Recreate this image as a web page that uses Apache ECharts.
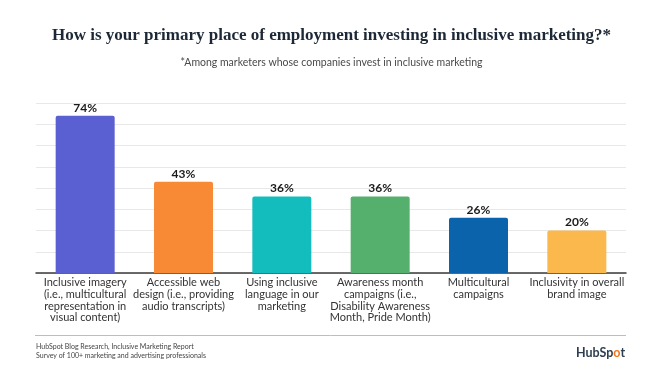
<!DOCTYPE html>
<html>
<head>
<meta charset="utf-8">
<script src="https://cdn.jsdelivr.net/npm/echarts@6/dist/echarts.min.js"></script>
<style>
html,body{margin:0;padding:0;background:#fff;}
#chart{width:663px;height:374px;}
</style>
</head>
<body>
<div id="chart"></div>
<script>
var categories = [
  "Inclusive imagery\n(i.e., multicultural\nrepresentation in\nvisual content)",
  "Accessible web\ndesign (i.e., providing\naudio transcripts)",
  "Using inclusive\nlanguage in our\nmarketing",
  "Awareness month\ncampaigns (i.e.,\nDisability Awareness\nMonth, Pride Month)",
  "Multicultural\ncampaigns",
  "Inclusivity in overall\nbrand image"
];
var values = [74, 43, 36, 36, 26, 20];
var barColors = ["#5a5fd2", "#f98a35", "#14bdbd", "#55af6d", "#0b63ac", "#fbb84c"];
var yTicks = [0, 10, 20, 30, 40, 50, 60, 70, 80];

var chart = echarts.init(document.getElementById('chart'), null, {renderer: 'canvas'});
var sans = "Lato, 'Noto Sans', sans-serif";
chart.setOption({
  backgroundColor: '#ffffff',
  animation: false,
  title: [
    {
      text: 'How is your primary place of employment investing in inclusive marketing?*',
      left: 'center', top: 22,
      textStyle: {fontFamily: "'Liberation Serif', serif", fontWeight: 'bold', fontSize: 17, color: '#1d2837'}
    },
    {
      text: '*Among marketers whose companies invest in inclusive marketing',
      left: 'center', top: 52,
      textStyle: {fontFamily: sans, fontWeight: 'normal', fontSize: 10.5, color: '#4a4a4a'}
    }
  ],
  grid: {left: 36, right: 37, top: 103, bottom: 101, containLabel: false},
  xAxis: {
    type: 'category',
    data: categories,
    axisLine: {show: true, lineStyle: {color: '#3a3a3a', width: 1.5}},
    axisTick: {show: false},
    axisLabel: {
      interval: 0, margin: 4, color: '#333333', fontFamily: sans, fontSize: 11,
      lineHeight: 11.7, align: 'center'
    }
  },
  yAxis: {
    type: 'value',
    min: yTicks[0], max: yTicks[yTicks.length - 1], interval: yTicks[1] - yTicks[0],
    axisLabel: {show: false},
    axisLine: {show: false},
    axisTick: {show: false},
    splitLine: {show: true, lineStyle: {color: '#e8e8e8', width: 1}}
  },
  series: [{
    type: 'bar',
    barWidth: '60%',
    data: values.map(function (v, i) {
      return {value: v, itemStyle: {color: barColors[i], borderRadius: [2, 2, 0, 0]}};
    }),
    label: {
      show: true, position: 'top', distance: 2,
      formatter: function (p) { return p.value + '%'; },
      color: '#1a1a1a', fontFamily: sans, fontSize: 12, fontWeight: 'bold'
    }
  }],
  graphic: [
    {type: 'line', shape: {x1: 35, y1: 335.5, x2: 626, y2: 335.5}, style: {stroke: '#bdbdbd', lineWidth: 1}},
    {type: 'text', left: 36, top: 343, style: {text: 'HubSpot Blog Research, Inclusive Marketing Report', fontFamily: sans, fontSize: 7, fill: '#444'}},
    {type: 'text', left: 36, top: 352, style: {text: 'Survey of 100+ marketing and advertising professionals', fontFamily: sans, fontSize: 7, fill: '#444'}},
    {type: 'text', left: 576, top: 346, style: {
      text: '{a|HubSp}{b|o}{a|t}',
      rich: {
        a: {fontFamily: sans, fontSize: 12.5, fontWeight: 'bold', fill: '#2d3e50', color: '#2d3e50'},
        b: {fontFamily: sans, fontSize: 12.5, fontWeight: 'bold', fill: '#f5761a', color: '#f5761a'}
      }
    }}
  ]
});
</script>
</body>
</html>
